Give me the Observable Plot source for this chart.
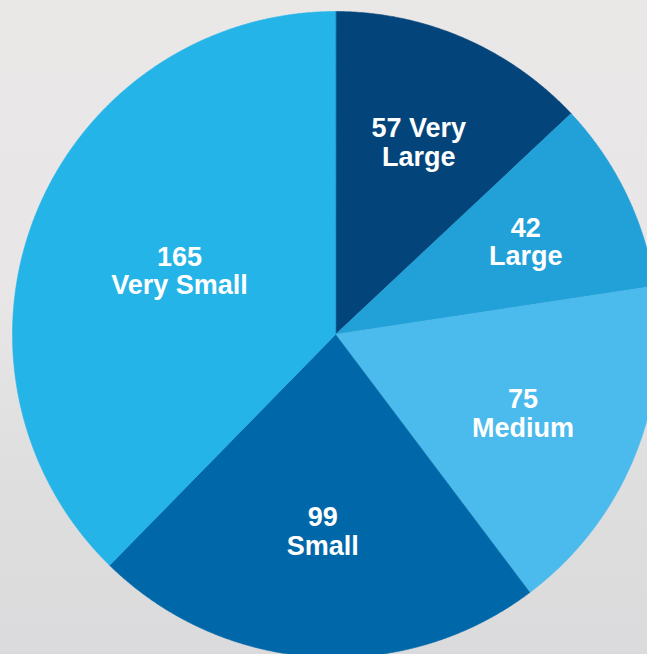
<!DOCTYPE html>
<html>
<head>
<meta charset="utf-8">
<script src="https://cdn.jsdelivr.net/npm/d3@7"></script>
<script src="https://cdn.jsdelivr.net/npm/@observablehq/plot@0.6"></script>
<style>
  html, body { margin: 0; padding: 0; }
  body {
    width: 647px; height: 654px; overflow: hidden;
    background: linear-gradient(to bottom, #eae7e7 0%, #e8e6e7 45%, #dedede 75%, #dbdbdd 100%);
  }
  #chart svg { display: block; }
</style>
</head>
<body>
<div id="chart"></div>
<script>
// ---- data ----
const categories = ["Very Large", "Large", "Medium", "Small", "Very Small"];
const counts = [57, 42, 75, 99, 165];
const labelTexts = ["57 Very\nLarge", "42\nLarge", "75\nMedium", "99\nSmall", "165\nVery Small"];
const colors = ["#03457b", "#22a1d9", "#4bbaec", "#0068a8", "#25b4e8"];

// ---- layout (radius = 1 data unit) ----
const W = 647, H = 654, cx = 335, cy = 334, R = 323;
const xDomain = [-cx / R, (W - cx) / R];
const yDomain = [-cy / R, (H - cy) / R];

// pie angles (clockwise from 12 o'clock)
const arcs = d3.pie().sort(null).value(d => d.count)(
  categories.map((c, i) => ({category: c, count: counts[i], text: labelTexts[i]}))
);

// sector polygons
const polys = arcs.map(a => {
  const pts = [[0, 0]];
  const n = Math.max(2, Math.ceil((a.endAngle - a.startAngle) / (Math.PI / 720)));
  for (let k = 0; k <= n; k++) {
    const t = a.startAngle + (a.endAngle - a.startAngle) * k / n;
    pts.push([Math.sin(t), -Math.cos(t)]);
  }
  return {category: a.data.category, text: a.data.text, pts};
});

// clip polygon to visible rectangle (Sutherland–Hodgman) for label centroid
function clip(poly, x0, x1, y0, y1) {
  const edges = [
    [p => p[0] >= x0, (a, b) => { const t = (x0 - a[0]) / (b[0] - a[0]); return [x0, a[1] + t * (b[1] - a[1])]; }],
    [p => p[0] <= x1, (a, b) => { const t = (x1 - a[0]) / (b[0] - a[0]); return [x1, a[1] + t * (b[1] - a[1])]; }],
    [p => p[1] >= y0, (a, b) => { const t = (y0 - a[1]) / (b[1] - a[1]); return [a[0] + t * (b[0] - a[0]), y0]; }],
    [p => p[1] <= y1, (a, b) => { const t = (y1 - a[1]) / (b[1] - a[1]); return [a[0] + t * (b[0] - a[0]), y1]; }]
  ];
  let out = poly;
  for (const [inside, inter] of edges) {
    const input = out; out = [];
    for (let i = 0; i < input.length; i++) {
      const cur = input[i], prev = input[(i + input.length - 1) % input.length];
      if (inside(cur)) {
        if (!inside(prev)) out.push(inter(prev, cur));
        out.push(cur);
      } else if (inside(prev)) out.push(inter(prev, cur));
    }
  }
  return out;
}

const sectorPoints = polys.flatMap(p => p.pts.map(([x, y]) => ({category: p.category, x, y})));
const labels = polys.map(p => {
  const c = d3.polygonCentroid(clip(p.pts, xDomain[0], xDomain[1], yDomain[0], yDomain[1]));
  return {category: p.category, text: p.text, x: c[0], y: c[1]};
});

const chart = Plot.plot({
  width: W, height: H,
  margin: 0,
  style: {background: "transparent", overflow: "hidden"},
  x: {domain: xDomain, range: [0, W], axis: null},
  y: {domain: yDomain, range: [0, H], axis: null},
  color: {domain: categories, range: colors},
  marks: [
    Plot.line(sectorPoints, {
      x: "x", y: "y", z: "category",
      fill: "category", stroke: "category", strokeWidth: 0.6,
      curve: "linear-closed"
    }),
    Plot.text(labels, {
      x: "x", y: "y", text: "text",
      fill: "white", fontSize: 27, fontWeight: "bold",
      fontFamily: "'Liberation Sans', Arial, Helvetica, sans-serif",
      lineHeight: 1.06, lineAnchor: "middle", textAnchor: "middle",
      style: "letter-spacing: 0.4px"
    })
  ]
});
document.getElementById("chart").appendChild(chart);
</script>
</body>
</html>
